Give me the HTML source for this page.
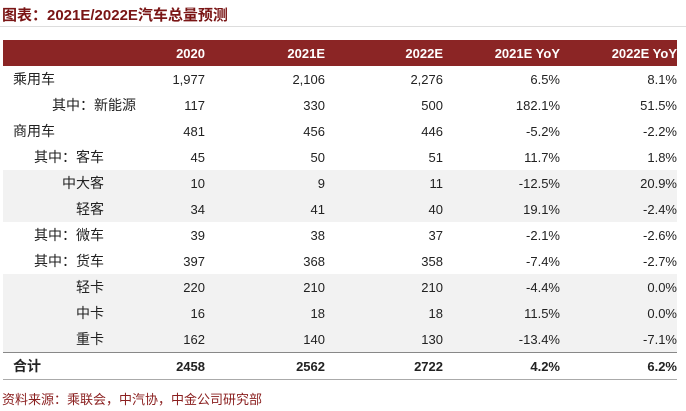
<!DOCTYPE html>
<html><head><meta charset="utf-8"><style>
body{margin:0;width:686px;height:411px;background:#fff;font-family:"Liberation Sans","Noto Sans CJK SC",sans-serif;position:relative;overflow:hidden}
.title{position:absolute;left:2px;top:4px;font-size:15px;font-weight:bold;color:#7a1515;}
.hl{position:absolute;left:0;top:26px;width:686px;height:1px;background:#ddd}
table{position:absolute;left:3px;top:40px;width:674px;border-collapse:collapse;font-size:13px;color:#222}
td{height:26px;padding:0;text-align:right}
td:first-child{padding-right:52px;font-size:14px}
td.n{padding-right:20px}
td:nth-child(2){padding-right:3px}
th{height:26px;background:#8b2525;color:#fff;font-weight:bold;text-align:right;padding:0}
th:nth-child(2){padding-right:3px}
td.l{text-align:left;padding-left:10px}
.g td{background:#f2f2f2}
.tot td{font-weight:bold;border-top:1.5px solid #888;border-bottom:1.5px solid #aaa;height:26px}
.src{position:absolute;left:2px;top:389px;font-size:13px;color:#8b2020}
</style></head><body>
<div class="title">图表：2021E/2022E汽车总量预测</div>
<div class="hl"></div>
<table>
<colgroup><col style="width:153px"><col style="width:52px"><col style="width:117px"><col style="width:118px"><col style="width:117px"><col style="width:117px"></colgroup>
<tr><th></th><th>2020</th><th>2021E</th><th>2022E</th><th>2021E YoY</th><th>2022E YoY</th></tr>
<tr><td class="l">乘用车</td><td>1,977</td><td>2,106</td><td>2,276</td><td>6.5%</td><td>8.1%</td></tr>
<tr><td class="n">其中：新能源</td><td>117</td><td>330</td><td>500</td><td>182.1%</td><td>51.5%</td></tr>
<tr><td class="l">商用车</td><td>481</td><td>456</td><td>446</td><td>-5.2%</td><td>-2.2%</td></tr>
<tr><td>其中：客车</td><td>45</td><td>50</td><td>51</td><td>11.7%</td><td>1.8%</td></tr>
<tr class="g"><td>中大客</td><td>10</td><td>9</td><td>11</td><td>-12.5%</td><td>20.9%</td></tr>
<tr class="g"><td>轻客</td><td>34</td><td>41</td><td>40</td><td>19.1%</td><td>-2.4%</td></tr>
<tr><td>其中：微车</td><td>39</td><td>38</td><td>37</td><td>-2.1%</td><td>-2.6%</td></tr>
<tr><td>其中：货车</td><td>397</td><td>368</td><td>358</td><td>-7.4%</td><td>-2.7%</td></tr>
<tr class="g"><td>轻卡</td><td>220</td><td>210</td><td>210</td><td>-4.4%</td><td>0.0%</td></tr>
<tr class="g"><td>中卡</td><td>16</td><td>18</td><td>18</td><td>11.5%</td><td>0.0%</td></tr>
<tr class="g"><td>重卡</td><td>162</td><td>140</td><td>130</td><td>-13.4%</td><td>-7.1%</td></tr>
<tr class="tot"><td class="l">合计</td><td>2458</td><td>2562</td><td>2722</td><td>4.2%</td><td>6.2%</td></tr>
</table>
<div class="src">资料来源：乘联会，中汽协，中金公司研究部</div>
</body></html>
